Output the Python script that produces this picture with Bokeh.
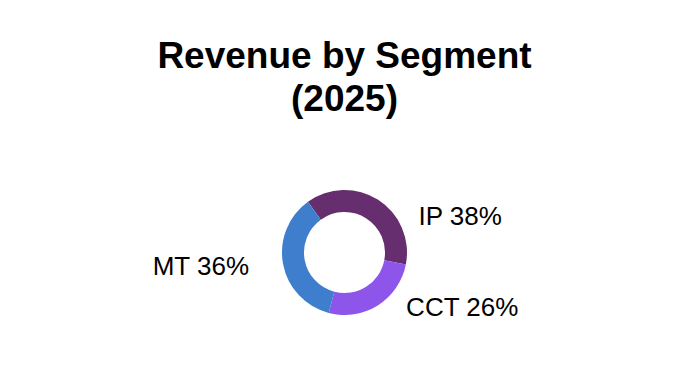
import numpy as np
from bokeh.plotting import figure
from bokeh.models import Range1d, Label, ColumnDataSource
from bokeh.core.properties import value
from bokeh.embed import file_html
from bokeh.resources import INLINE

# ---- data ----
title_lines = ["Revenue by Segment", "(2025)"]
segments = ["IP", "CCT", "MT"]
shares = [38, 26, 36]
colors = ["#662e6e", "#8e55eb", "#3f7dcd"]

# ---- layout (pixels, figure coordinates with y up) ----
W, H = 672, 372
cx, cy = 344, 120
r_in, r_out = 40.5, 62.5
start_deg = 125.8  # math angle where first slice starts, drawn clockwise
label_fs = 26
title_fs = 37
mid_shift = 0.3465  # (ascent - descent) / 2 in em, for centring on baseline
label_dx = [40.3, 28.3, -33.6]
label_dy = [-24.7, -10.3, -11.5]
label_align = ["left", "left", "right"]

p = figure(width=W, height=H, output_backend="svg", toolbar_location=None,
           x_range=Range1d(0, W), y_range=Range1d(0, H), min_border=0,
           x_axis_location=None, y_axis_location=None)
p.grid.visible = False
p.outline_line_color = None
p.background_fill_color = "white"
p.border_fill_color = "white"

frac = np.array(shares, dtype=float) / np.sum(shares)
cum = np.concatenate([[0.0], np.cumsum(frac)])
start0 = np.radians(start_deg)
starts = start0 - cum[:-1] * 2 * np.pi
ends = start0 - cum[1:] * 2 * np.pi
mids = (starts + ends) / 2

src = ColumnDataSource(dict(start=starts, end=ends, color=colors, seg=segments))
p.annular_wedge(x=cx, y=cy, inner_radius=r_in, outer_radius=r_out,
                inner_radius_units="screen", outer_radius_units="screen",
                start_angle="start", end_angle="end", direction="clock",
                fill_color="color", line_color=None, source=src)

lx = cx + r_out * np.cos(mids) + np.array(label_dx)
ly = cy + r_out * np.sin(mids) + np.array(label_dy) + mid_shift * label_fs
labels = [f"{s} {v}%" for s, v in zip(segments, shares)]
lsrc = ColumnDataSource(dict(x=lx, y=ly, text=labels, align=label_align))
p.text(x="x", y="y", text="text", source=lsrc, text_align="align",
       text_baseline="middle", text_font=value("Liberation Sans"),
       text_font_size=f"{label_fs}px", text_color="#000000")

title_y = [304, 261]
for t, y in zip(title_lines, title_y):
    p.add_layout(Label(x=cx, y=y + mid_shift * title_fs, text=t, text_align="center",
                       text_baseline="middle", text_font="Liberation Sans",
                       text_font_style="bold", text_font_size=f"{title_fs}px",
                       text_color="#000000"))

open("out.html", "w").write(file_html(p, INLINE))
